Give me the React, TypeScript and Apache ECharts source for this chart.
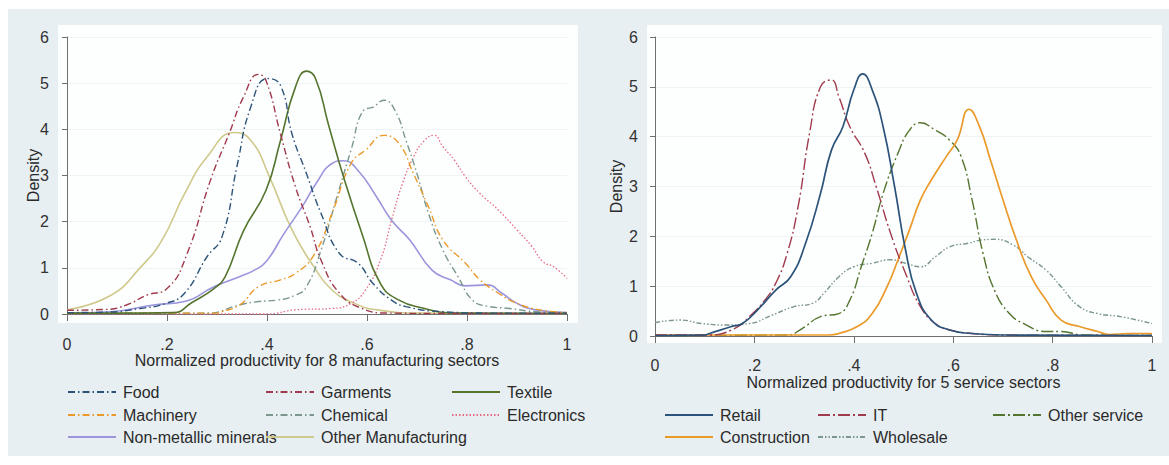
import React, { useEffect, useRef } from 'react';
import * as echarts from 'echarts';

// x: normalized productivity, y: density
const food: [number, number][] = [
  [0, 0.03], [0.08, 0.04], [0.146, 0.12], [0.198, 0.23], [0.235, 0.45], [0.28, 1.24], [0.31, 1.67],
  [0.34, 3.2], [0.368, 4.5], [0.401, 5.1], [0.427, 4.95], [0.45, 3.9], [0.479, 3.04], [0.508, 2.18],
  [0.545, 1.31], [0.582, 1.1], [0.612, 0.66], [0.649, 0.3], [0.678, 0.16], [0.75, 0.05], [0.85, 0.02], [1, 0.02],
];
const garments: [number, number][] = [
  [0, 0.08], [0.08, 0.1], [0.12, 0.2], [0.16, 0.41], [0.2, 0.55], [0.24, 1.3], [0.287, 2.9], [0.324, 3.9],
  [0.353, 4.7], [0.383, 5.19], [0.398, 5.06], [0.427, 3.9], [0.457, 2.75], [0.486, 1.9], [0.508, 1.17],
  [0.545, 0.45], [0.59, 0.12], [0.64, 0.02], [0.8, 0.01], [1, 0.01],
];
const textile: [number, number][] = [
  [0, 0.02], [0.15, 0.02], [0.213, 0.03], [0.25, 0.25], [0.294, 0.55], [0.316, 0.8], [0.353, 1.8],
  [0.398, 2.68], [0.427, 3.76], [0.457, 4.92], [0.479, 5.26], [0.497, 5.1], [0.523, 4.1], [0.553, 2.97],
  [0.59, 1.74], [0.627, 0.66], [0.664, 0.3], [0.715, 0.12], [0.767, 0.02], [1, 0.01],
];
const machinery: [number, number][] = [
  [0, 0.02], [0.3, 0.02], [0.31, 0.05], [0.346, 0.2], [0.383, 0.59], [0.427, 0.74], [0.457, 0.88],
  [0.494, 1.28], [0.53, 2.18], [0.568, 3.26], [0.597, 3.55], [0.634, 3.87], [0.664, 3.69], [0.693, 3.04],
  [0.723, 2.32], [0.752, 1.6], [0.797, 1.1], [0.826, 0.74], [0.863, 0.45], [0.9, 0.23], [0.945, 0.09], [1, 0.03],
];
const chemical: [number, number][] = [
  [0, 0.02], [0.28, 0.02], [0.346, 0.2], [0.383, 0.27], [0.42, 0.3], [0.457, 0.41], [0.479, 0.59],
  [0.508, 1.38], [0.538, 2.47], [0.568, 3.55], [0.593, 4.41], [0.612, 4.48], [0.634, 4.63], [0.656, 4.41],
  [0.678, 3.76], [0.7, 3.04], [0.723, 2.18], [0.752, 1.38], [0.782, 0.81], [0.811, 0.3], [0.84, 0.17],
  [0.885, 0.12], [0.937, 0.05], [1, 0.03],
];
const electronics: [number, number][] = [
  [0, 0], [0.4, 0], [0.457, 0.09], [0.53, 0.12], [0.568, 0.23], [0.597, 0.52], [0.627, 1.17], [0.649, 2.03],
  [0.671, 2.83], [0.693, 3.4], [0.715, 3.76], [0.734, 3.87], [0.752, 3.62], [0.775, 3.33], [0.797, 2.97],
  [0.826, 2.61], [0.863, 2.25], [0.9, 1.82], [0.93, 1.46], [0.952, 1.13], [0.974, 1.02], [1, 0.77],
];
const nonMetallic: [number, number][] = [
  [0, 0.02], [0.087, 0.05], [0.176, 0.2], [0.235, 0.27], [0.294, 0.59], [0.346, 0.81], [0.375, 0.95],
  [0.398, 1.13], [0.434, 1.74], [0.47, 2.32], [0.5, 2.86], [0.53, 3.26], [0.553, 3.32], [0.582, 3.11],
  [0.619, 2.54], [0.649, 2.03], [0.686, 1.6], [0.73, 0.95], [0.767, 0.74], [0.797, 0.61], [0.84, 0.63],
  [0.87, 0.45], [0.9, 0.23], [0.937, 0.09], [1, 0.03],
];
const otherManufacturing: [number, number][] = [
  [0, 0.09], [0.087, 0.4], [0.146, 1.0], [0.19, 1.6], [0.235, 2.6], [0.28, 3.4], [0.335, 3.93], [0.368, 3.76],
  [0.405, 2.97], [0.45, 1.82], [0.494, 1.02], [0.53, 0.52], [0.575, 0.23], [0.62, 0.09], [0.7, 0.02], [1, 0.01],
];

const retail: [number, number][] = [
  [0, 0.01], [0.1, 0.02], [0.11, 0.05], [0.154, 0.19], [0.176, 0.25], [0.206, 0.52], [0.243, 0.92],
  [0.273, 1.19], [0.303, 1.86], [0.333, 2.86], [0.355, 3.73], [0.378, 4.2], [0.4, 4.94], [0.418, 5.26],
  [0.437, 4.94], [0.459, 4.2], [0.482, 3.0], [0.504, 1.73], [0.526, 0.86], [0.556, 0.32], [0.593, 0.12],
  [0.638, 0.05], [0.705, 0.02], [1, 0.01],
];
const it: [number, number][] = [
  [0, 0.02], [0.11, 0.02], [0.16, 0.15], [0.19, 0.39], [0.221, 0.72], [0.243, 1.06], [0.266, 1.66],
  [0.288, 2.6], [0.311, 4.07], [0.333, 5.0], [0.355, 5.14], [0.37, 4.8], [0.392, 4.2], [0.422, 3.67],
  [0.445, 3.0], [0.474, 2.06], [0.504, 1.26], [0.534, 0.59], [0.564, 0.25], [0.593, 0.12], [0.638, 0.05],
  [0.705, 0.02], [1, 0.01],
];
const otherService: [number, number][] = [
  [0, 0.01], [0.266, 0.02], [0.296, 0.15], [0.333, 0.39], [0.37, 0.45], [0.392, 0.72], [0.415, 1.39],
  [0.437, 2.06], [0.459, 2.86], [0.489, 3.67], [0.512, 4.13], [0.534, 4.28], [0.564, 4.13], [0.593, 3.93],
  [0.616, 3.6], [0.638, 2.73], [0.66, 1.66], [0.683, 0.92], [0.713, 0.45], [0.742, 0.25], [0.787, 0.09],
  [0.817, 0.09], [0.862, 0.02], [1, 0.01],
];
const construction: [number, number][] = [
  [0, 0.02], [0.35, 0.02], [0.37, 0.05], [0.407, 0.19], [0.437, 0.45], [0.467, 0.99], [0.489, 1.53],
  [0.512, 2.13], [0.534, 2.73], [0.556, 3.13], [0.586, 3.6], [0.608, 3.93], [0.632, 4.55], [0.653, 4.2],
  [0.675, 3.53], [0.698, 2.8], [0.727, 1.93], [0.757, 1.19], [0.787, 0.72], [0.817, 0.32], [0.854, 0.19],
  [0.891, 0.09], [0.914, 0.03], [0.951, 0.05], [1, 0.05],
];
const wholesale: [number, number][] = [
  [0, 0.27], [0.05, 0.32], [0.095, 0.25], [0.147, 0.22], [0.19, 0.25], [0.236, 0.42], [0.28, 0.59],
  [0.318, 0.66], [0.34, 0.86], [0.37, 1.19], [0.4, 1.39], [0.437, 1.46], [0.474, 1.53], [0.504, 1.46],
  [0.534, 1.39], [0.564, 1.59], [0.593, 1.79], [0.63, 1.86], [0.66, 1.93], [0.683, 1.94], [0.72, 1.83],
  [0.75, 1.59], [0.787, 1.32], [0.817, 0.99], [0.854, 0.59], [0.891, 0.45], [0.936, 0.39], [1, 0.25],
];

const xTicks = [0, 0.2, 0.4, 0.6, 0.8, 1];

// stata s2color palette, a little faded like the scan
const NAVY = '#2c5379';
const MAROON = '#a03a4c';
const FOREST = '#55752f';
const DKORANGE = '#eb9a2a';
const TEAL = '#7b978e';
const CRANBERRY = '#e56a84';
const LAVENDER = '#9a95dc';
const KHAKI = '#cfc98c';

const FONT = '"Liberation Sans", Arial, sans-serif';
const BG = '#e8eff2';

const dashDot = [7, 3, 1.5, 3];
const longDashDot = [12, 3, 2, 3];
const dotted = [1.5, 2];
const dashDotDot = [5, 2, 1.5, 2, 1.5, 2];

const App: React.FC = () => {
  const chartRef = useRef<HTMLDivElement>(null);

  useEffect(() => {
    if (!chartRef.current) return;
    const chart = echarts.init(chartRef.current, null, { renderer: 'svg' });

    const fmt = (v: number) => {
      if (v === 0) return '0';
      if (v >= 1) return '1';
      return '.' + Math.round(v * 10);
    };

    const xAxisBase = (gridIndex: number, offset: number, name: string, nameGap: number, margin: number) => ({
      type: 'value',
      gridIndex,
      min: 0,
      max: 1,
      interval: 0.2,
      offset,
      name,
      nameLocation: 'middle',
      nameGap,
      nameMoveOverlap: false,
      nameTextStyle: { fontSize: 16, color: '#2a2a2a', fontFamily: FONT },
      axisLine: { show: true, lineStyle: { color: '#6f6f6f', width: 1 } },
      axisTick: { show: true, length: 7, lineStyle: { color: '#6f6f6f' } },
      axisLabel: { fontSize: 16, color: '#333', fontFamily: FONT, margin, formatter: fmt, customValues: xTicks },
      splitLine: { show: false },
    });

    const yAxisBase = (gridIndex: number, offset: number, nameGap: number) => ({
      type: 'value',
      gridIndex,
      min: 0,
      max: 6,
      interval: 1,
      offset,
      name: 'Density',
      nameLocation: 'middle',
      nameGap,
      nameRotate: 90,
      nameMoveOverlap: false,
      nameTextStyle: { fontSize: 16, color: '#2a2a2a', fontFamily: FONT },
      axisLine: { show: true, lineStyle: { color: '#6f6f6f', width: 1 } },
      axisTick: { show: true, length: 5, lineStyle: { color: '#6f6f6f' } },
      axisLabel: { fontSize: 16, color: '#333', fontFamily: FONT, margin: 9 },
      splitLine: { show: true, lineStyle: { color: '#eef3f5', width: 1 } },
    });

    const line = (name: string, data: [number, number][], color: string, type: any, idx: number, width = 1.4) => ({
      name,
      type: 'line',
      xAxisIndex: idx,
      yAxisIndex: idx,
      data,
      smooth: 0.5,
      symbol: 'none',
      showSymbol: false,
      lineStyle: { color, width, type },
      itemStyle: { color },
      z: 3,
    });

    const legendItem = (name: string, left: number, rowY: number) => ({
      data: [name],
      left,
      top: rowY - 9,
      itemWidth: 48,
      itemHeight: 12,
      itemGap: 0,
      padding: 0,
      selectedMode: false,
      itemStyle: { opacity: 0 },
      textStyle: { fontSize: 16, color: '#2a2a2a', fontFamily: FONT, padding: [0, 0, 0, 2] },
    });

    const option = {
      animation: false,
      backgroundColor: '#ffffff',
      textStyle: { fontFamily: FONT },
      graphic: [
        { type: 'rect', z: -10, shape: { x: 8, y: 9, width: 1161, height: 447 }, style: { fill: BG } },
        { type: 'rect', z: -9, shape: { x: 58, y: 25, width: 520, height: 298 }, style: { fill: '#fdfefe' } },
        { type: 'rect', z: -9, shape: { x: 647, y: 25, width: 515, height: 318 }, style: { fill: '#fdfefe' } },
      ],
      grid: [
        { left: 67, top: 37, width: 500, height: 277, containLabel: false, outerBoundsMode: 'none' },
        { left: 655, top: 37, width: 497, height: 299, containLabel: false, outerBoundsMode: 'none' },
      ],
      xAxis: [
        xAxisBase(0, 9, 'Normalized productivity for 8 manufacturing sectors', 29, 13),
        xAxisBase(1, 11, 'Normalized productivity for 5 service sectors', 27, 10),
      ],
      yAxis: [yAxisBase(0, 9, 17), yAxisBase(1, 8, 23)],
      legend: [
        legendItem('Food', 67, 393),
        legendItem('Garments', 265, 393),
        legendItem('Textile', 451, 393),
        legendItem('Machinery', 67, 416),
        legendItem('Chemical', 265, 416),
        legendItem('Electronics', 451, 416),
        legendItem('Non-metallic minerals', 67, 438),
        legendItem('Other Manufacturing', 265, 438),
        legendItem('Retail', 664, 416),
        legendItem('IT', 817, 416),
        legendItem('Other service', 992, 416),
        legendItem('Construction', 664, 438),
        legendItem('Wholesale', 817, 438),
      ],
      series: [
        line('Other Manufacturing', otherManufacturing, KHAKI, 'solid', 0, 1.6),
        line('Non-metallic minerals', nonMetallic, LAVENDER, 'solid', 0, 1.6),
        line('Electronics', electronics, CRANBERRY, dotted, 0, 1.3),
        line('Chemical', chemical, TEAL, dashDot, 0),
        line('Machinery', machinery, DKORANGE, dashDot, 0),
        line('Textile', textile, FOREST, 'solid', 0, 1.6),
        line('Garments', garments, MAROON, dashDot, 0),
        line('Food', food, NAVY, dashDot, 0),
        line('Wholesale', wholesale, TEAL, dashDotDot, 1),
        line('Other service', otherService, FOREST, longDashDot, 1),
        line('Construction', construction, DKORANGE, 'solid', 1, 1.7),
        line('IT', it, MAROON, longDashDot, 1),
        line('Retail', retail, NAVY, 'solid', 1, 1.7),
      ],
    };

    chart.setOption(option as any);
    return () => {
      chart.dispose();
    };
  }, []);

  return (
    <div
      ref={chartRef}
      style={{ position: 'absolute', left: 0, top: 0, width: '1169px', height: '465px' }}
    />
  );
};

export default App;
